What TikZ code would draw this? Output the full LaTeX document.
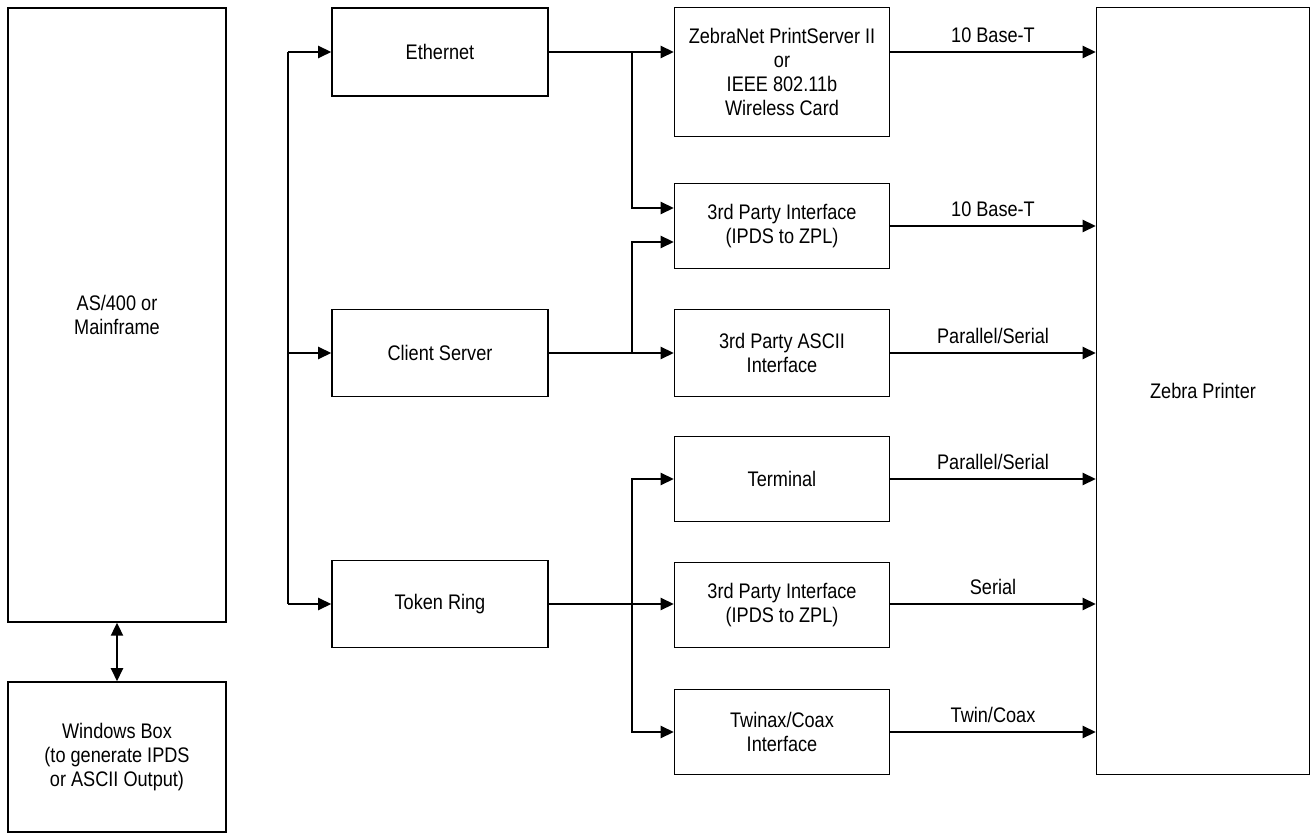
\documentclass[tikz,border=0pt]{standalone}
\usepackage{fontspec}
\setmainfont{Liberation Sans}[FakeStretch=0.86]
\usetikzlibrary{arrows.meta}

\begin{document}
\begin{tikzpicture}[x=0.02cm, y=-0.02cm, line width=1.3pt,
    arr/.style={-{Triangle[length=0.26cm, width=0.24cm]}},
    dbl/.style={{Triangle[length=0.26cm, width=0.24cm]}-{Triangle[length=0.26cm, width=0.24cm]}}]
   \fill[white] (0,0) rectangle (1312,834);
   \useasboundingbox (0,0) rectangle (1312,834);
   \begin{scope}[every node/.style={draw, line width=0.9pt, rectangle, align=center,
       inner sep=0pt, font=\fontsize{12pt}{13.8pt}\selectfont}]
    \node[minimum width=4.36cm, minimum height=12.28cm] (as400) at (117,315) {AS/400 or\\Mainframe};
    \node[minimum width=4.36cm, minimum height=3.0cm] (winbox) at (117,757) {Windows Box\\(to generate IPDS\\or ASCII Output)};
    \node[minimum width=4.32cm, minimum height=1.76cm] (eth) at (440,52) {Ethernet};
    \node[minimum width=4.32cm, minimum height=1.74cm] (cs) at (440,353) {Client Server};
    \node[minimum width=4.32cm, minimum height=1.74cm] (tr) at (440,604) {Token Ring};
    \node[minimum width=4.3cm, minimum height=2.58cm] (zn) at (782,72) {ZebraNet PrintServer II\\or\\IEEE 802.11b\\Wireless Card};
    \node[minimum width=4.3cm, minimum height=1.7cm] (tp1) at (782,226) {3rd Party Interface\\(IPDS to ZPL)};
    \node[minimum width=4.3cm, minimum height=1.74cm] (ascii) at (782,353) {3rd Party ASCII\\Interface};
    \node[minimum width=4.3cm, minimum height=1.7cm] (term) at (782,479) {Terminal};
    \node[minimum width=4.3cm, minimum height=1.7cm] (tp2) at (782,605) {3rd Party Interface\\(IPDS to ZPL)};
    \node[minimum width=4.3cm, minimum height=1.7cm] (twin) at (782,732) {Twinax/Coax\\Interface};
    \node[minimum width=4.26cm, minimum height=15.34cm] (printer) at (1203,391) {Zebra Printer};
   \end{scope}
   \coordinate (lbus) at (288,0);
   \coordinate (mbus) at (632,0);
   \begin{scope}[every node/.style={font=\fontsize{12pt}{13.8pt}\selectfont, above, inner sep=4.5pt}]
    % left bus
    \draw (lbus |- eth.west) -- (lbus |- tr.west);
    \draw[arr] (lbus |- eth.west) -- (eth.west);
    \draw[arr] (lbus |- cs.west) -- (cs.west);
    \draw[arr] (lbus |- tr.west) -- (tr.west);
    \draw[dbl] (as400.south) -- (winbox.north);
    % middle
    \draw[arr] (eth.east) -- (zn.west |- eth.east);
    \draw[arr] (mbus |- eth.east) |- ([yshift=0.36cm]tp1.west);
    \draw[arr] (cs.east) -- (ascii.west);
    \draw[arr] (mbus |- cs.east) |- ([yshift=-0.32cm]tp1.west);
    \draw[arr] (tr.east) -- (tp2.west |- tr.east);
    \draw[arr] (mbus |- tr.east) |- (term.west);
    \draw[arr] (mbus |- tr.east) |- (twin.west);
    % to printer
    \draw[arr] (zn.east |- eth.east) -- (printer.west |- eth.east) node[midway] {10 Base-T};
    \draw[arr] (tp1.east) -- (printer.west |- tp1.east) node[midway] {10 Base-T};
    \draw[arr] (ascii.east) -- (printer.west |- ascii.east) node[midway] {Parallel/Serial};
    \draw[arr] (term.east) -- (printer.west |- term.east) node[midway] {Parallel/Serial};
    \draw[arr] (tp2.east |- tr.east) -- (printer.west |- tr.east) node[midway] {Serial};
    \draw[arr] (twin.east) -- (printer.west |- twin.east) node[midway] {Twin/Coax};
   \end{scope}
\end{tikzpicture}
\end{document}
